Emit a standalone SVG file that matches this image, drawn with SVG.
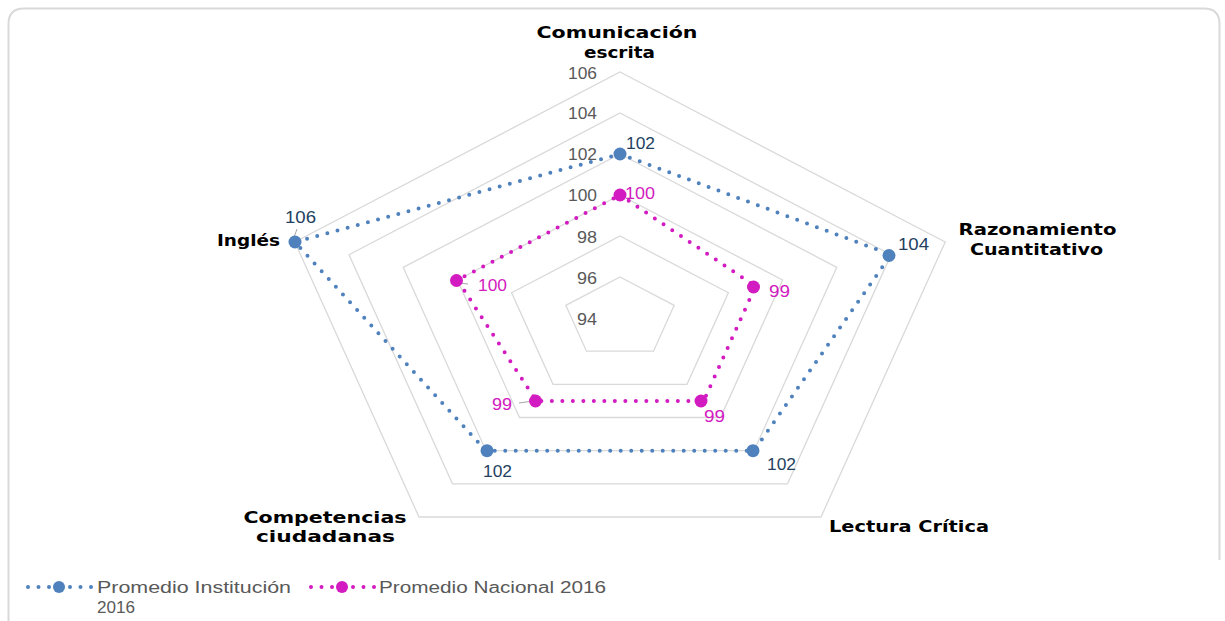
<svg xmlns="http://www.w3.org/2000/svg" width="1225" height="621" viewBox="0 0 1225 621">
<style>
.ring{fill:none;stroke:#D9D9D9;stroke-width:1.3}
.cat{font-family:"DejaVu Sans",sans-serif;font-weight:bold;font-size:16.5px;fill:#000;text-anchor:middle}
.ax{font-family:"Liberation Sans",sans-serif;font-size:16px;fill:#595959;text-anchor:end}
.lb{font-family:"Liberation Sans",sans-serif;font-size:16px}
.bl{fill:#243F60}
.pk{fill:#D21BC0}
.sb{fill:none;stroke:#4F81BD;stroke-width:4;stroke-linecap:round;stroke-dasharray:0 10.5;stroke-linejoin:round}
.sp{fill:none;stroke:#D21BC0;stroke-width:4;stroke-linecap:round;stroke-dasharray:0 10.5;stroke-linejoin:round}
.mb{fill:#4F81BD}
.mp{fill:#D21BC0}
.lead{stroke:#A6A6A6;stroke-width:1}
.leg{font-family:"Liberation Sans",sans-serif;font-size:16px;fill:#595959}
</style>
<rect width="1225" height="621" fill="#fff"/>
<path d="M8.5,621 V24 Q8.5,8.5 24,8.5 H1204 Q1219.5,8.5 1219.5,24 V560" fill="none" stroke="#D9D9D9" stroke-width="2"/>
<g id="grid">
<polygon class="ring" points="620,277 674.2,305.3 653.5,351.2 586.5,351.2 565.8,305.3"/>
<polygon class="ring" points="620,236 728.4,292.7 687,384.3 553,384.3 511.6,292.7"/>
<polygon class="ring" points="620,195 782.6,280 720.5,417.5 519.5,417.5 457.4,280"/>
<polygon class="ring" points="620,154 836.8,267.3 754,450.7 486,450.7 403.2,267.3"/>
<polygon class="ring" points="620,113 891,254.7 787.5,483.8 452.5,483.8 349,254.7"/>
<polygon class="ring" points="620,72 945.2,242 821,517 419,517 294.8,242"/>
</g>
<g id="axis-labels">
<text class="ax" x="597" y="78.5" textLength="29" lengthAdjust="spacingAndGlyphs">106</text>
<text class="ax" x="597" y="118.5" textLength="29" lengthAdjust="spacingAndGlyphs">104</text>
<text class="ax" x="597" y="159.5" textLength="29" lengthAdjust="spacingAndGlyphs">102</text>
<text class="ax" x="597" y="200.5" textLength="29" lengthAdjust="spacingAndGlyphs">100</text>
<text class="ax" x="597" y="242.5" textLength="20" lengthAdjust="spacingAndGlyphs">98</text>
<text class="ax" x="597" y="283.5" textLength="20" lengthAdjust="spacingAndGlyphs">96</text>
<text class="ax" x="597" y="324.5" textLength="20" lengthAdjust="spacingAndGlyphs">94</text>
</g>
<g id="connectors">
<polygon class="sb" points="620,154 891,254.7 754,450.7 486,450.7 294.8,242"/>
<polygon class="sp" points="620,195 755.5,286.3 703.7,400.9 536.3,400.9 457.4,280"/>
<line class="lead" x1="297" y1="229" x2="293" y2="240"/>
<line class="lead" x1="519" y1="403" x2="533" y2="401"/>
<line class="lead" x1="459" y1="283" x2="468" y2="284"/>
</g>
<g id="series-institucion">
<circle class="mb" cx="620" cy="154" r="6.5"/>
<circle class="mb" cx="889" cy="255.5" r="6.5"/>
<circle class="mb" cx="753" cy="450.7" r="6.5"/>
<circle class="mb" cx="487" cy="450.7" r="6.5"/>
<circle class="mb" cx="295" cy="242" r="6.5"/>
<text class="lb bl" x="626" y="148.5" textLength="29" lengthAdjust="spacingAndGlyphs">102</text>
<text class="lb bl" x="898" y="249.5" textLength="31" lengthAdjust="spacingAndGlyphs">104</text>
<text class="lb bl" x="767" y="469.5" textLength="29" lengthAdjust="spacingAndGlyphs">102</text>
<text class="lb bl" x="483" y="476.5" textLength="29" lengthAdjust="spacingAndGlyphs">102</text>
<text class="lb bl" x="285" y="222.5" textLength="31" lengthAdjust="spacingAndGlyphs">106</text>
</g>
<g id="series-nacional">
<circle class="mp" cx="620" cy="195" r="6.5"/>
<circle class="mp" cx="753.5" cy="287" r="6.5"/>
<circle class="mp" cx="701" cy="401" r="6.5"/>
<circle class="mp" cx="535.5" cy="401" r="6.5"/>
<circle class="mp" cx="456.5" cy="280.5" r="6.5"/>
<text class="lb pk" x="625" y="198.5" textLength="30" lengthAdjust="spacingAndGlyphs">100</text>
<text class="lb pk" x="769" y="296.5" textLength="21" lengthAdjust="spacingAndGlyphs">99</text>
<text class="lb pk" x="704" y="421.5" textLength="21" lengthAdjust="spacingAndGlyphs">99</text>
<text class="lb pk" x="492" y="409.5" textLength="20" lengthAdjust="spacingAndGlyphs">99</text>
<text class="lb pk" x="478" y="290.5" textLength="29" lengthAdjust="spacingAndGlyphs">100</text>
</g>
<g id="node-comunicacion">
<text class="cat" x="617" y="37.5" textLength="161" lengthAdjust="spacingAndGlyphs">Comunicación</text>
<text class="cat" x="619.5" y="57.5" textLength="71" lengthAdjust="spacingAndGlyphs">escrita</text>
</g>
<g id="node-razonamiento">
<text class="cat" x="1037.5" y="235" textLength="158" lengthAdjust="spacingAndGlyphs">Razonamiento</text>
<text class="cat" x="1036.5" y="255" textLength="133" lengthAdjust="spacingAndGlyphs">Cuantitativo</text>
</g>
<g id="node-lectura">
<text class="cat" x="909" y="531.5" textLength="160" lengthAdjust="spacingAndGlyphs">Lectura Crítica</text>
</g>
<g id="node-competencias">
<text class="cat" x="325" y="523" textLength="163" lengthAdjust="spacingAndGlyphs">Competencias</text>
<text class="cat" x="325.5" y="542" textLength="139" lengthAdjust="spacingAndGlyphs">ciudadanas</text>
</g>
<g id="node-ingles">
<text class="cat" x="248.5" y="246" textLength="63" lengthAdjust="spacingAndGlyphs">Inglés</text>
</g>
<g id="legend">
<line class="sb" x1="28" y1="587" x2="92" y2="587"/>
<circle class="mb" cx="59" cy="587" r="6"/>
<text class="leg" x="97" y="592.5" textLength="194" lengthAdjust="spacingAndGlyphs">Promedio Institución</text>
<text class="leg" x="97" y="612.5" textLength="38" lengthAdjust="spacingAndGlyphs">2016</text>
<line class="sp" x1="311" y1="587" x2="375" y2="587"/>
<circle class="mp" cx="342" cy="587" r="6"/>
<text class="leg" x="379" y="592.5" textLength="227" lengthAdjust="spacingAndGlyphs">Promedio Nacional 2016</text>
</g>
</svg>
